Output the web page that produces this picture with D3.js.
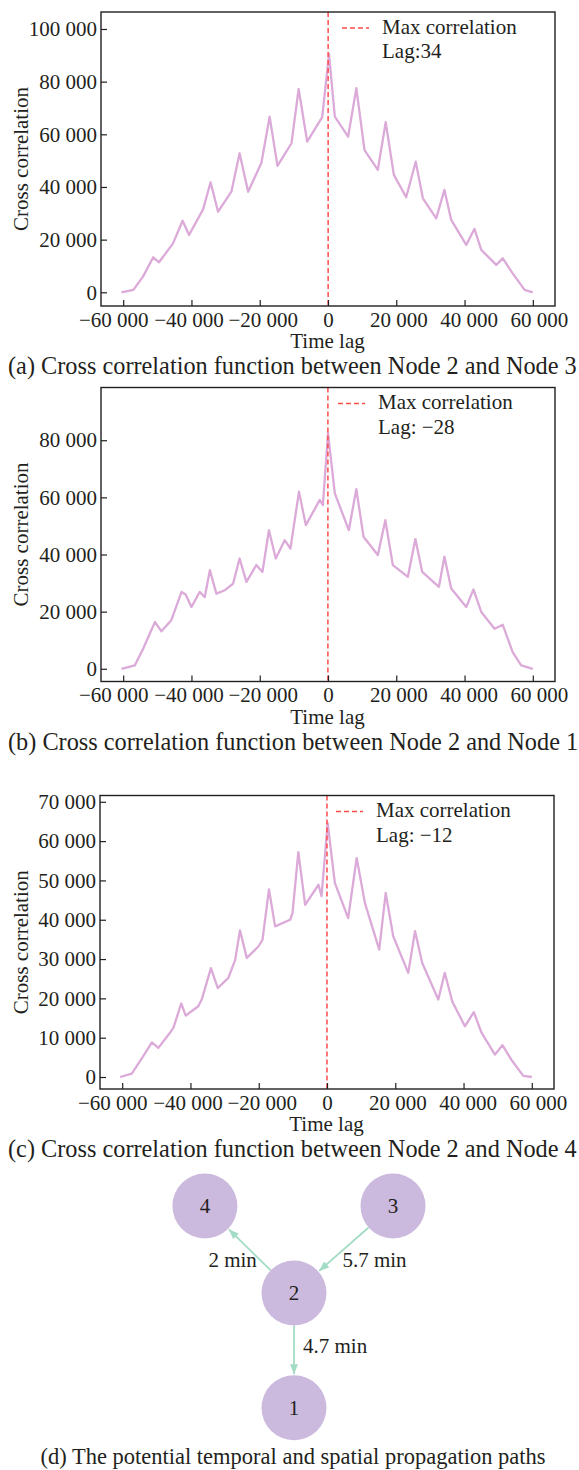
<!DOCTYPE html>
<html>
<head>
<meta charset="utf-8">
<script src="https://cdn.jsdelivr.net/npm/d3@7"></script>
<style>
  body { margin: 0; background: #fff; }
  text { font-family: "Liberation Serif", "Times New Roman", serif; fill: #231f20; }
</style>
</head>
<body>
<div id="chart"></div>
<script>
// ---- data ----
const xTicks = [-60000, -40000, -20000, 0, 20000, 40000, 60000];
const yTicksA = [0, 20000, 40000, 60000, 80000, 100000];
const yTicksB = [0, 20000, 40000, 60000, 80000];
const yTicksC = [0, 10000, 20000, 30000, 40000, 50000, 60000, 70000];

// (a) Node 2 vs Node 3
const lagA = [-60500, -57000, -54200, -51200, -49500, -45400, -42600, -40700, -36600, -34400, -32200, -28300, -25900, -23400, -19500, -17100, -14800, -10700, -8600, -6100, -1700, 300, 2000, 5900, 8300, 10700, 14600, 16900, 19300, 22900, 25700, 27800, 31700, 34100, 36100, 40500, 42900, 44900, 49300, 51200, 54100, 57600, 60000];
const corrA = [0, 900, 5950, 13300, 11400, 18600, 27200, 21800, 31500, 41800, 30600, 38200, 52800, 38200, 49200, 66700, 48000, 56600, 77200, 57200, 66500, 90500, 66700, 59100, 77500, 54000, 46500, 64600, 44600, 36100, 49600, 35700, 28100, 38900, 27500, 18000, 24100, 16100, 10400, 12900, 7200, 900, 0];

// (b) Node 2 vs Node 1
const lagB = [-60500, -56600, -54150, -50700, -48800, -45900, -42900, -41700, -40000, -37600, -36100, -34600, -32700, -30200, -27800, -25900, -23900, -21000, -19200, -17300, -15300, -12700, -11000, -8500, -6500, -2400, -1500, 0, 2000, 6100, 8300, 10400, 14600, 16800, 19000, 23400, 25600, 27600, 32500, 34100, 36100, 40500, 42600, 44900, 48800, 51200, 54100, 56600, 60000];
const corrB = [0, 1200, 7000, 16400, 13100, 17000, 26900, 26000, 21600, 26900, 25100, 34500, 26300, 27500, 29800, 38600, 30400, 36300, 33900, 48500, 38600, 45000, 42100, 62000, 50300, 59100, 57300, 82500, 61400, 48500, 62900, 46200, 39800, 52000, 36300, 32200, 45400, 33900, 28700, 39200, 28100, 21600, 27800, 19900, 14000, 15400, 5800, 1200, 0];

// (c) Node 2 vs Node 4
const lagC = [-60600, -57200, -54200, -51300, -49400, -46400, -45000, -42700, -41400, -37700, -36700, -34000, -32000, -28900, -26900, -25500, -23500, -20100, -18900, -17000, -15200, -10800, -10100, -8400, -6400, -2500, -1600, 200, 2300, 6200, 8700, 11100, 15300, 17200, 19400, 23800, 25800, 27900, 32600, 34500, 36700, 40400, 43000, 45300, 49200, 51400, 54000, 57500, 60000];
const corrC = [0, 850, 4800, 8800, 7400, 10800, 12500, 18700, 15600, 18000, 19700, 27700, 22600, 25200, 29800, 37300, 30300, 33200, 34900, 47700, 38300, 40000, 41700, 57200, 43800, 48900, 46000, 64600, 49400, 40400, 55700, 44300, 32400, 46800, 35800, 26500, 37100, 29000, 19700, 26500, 19200, 12900, 16500, 11200, 5700, 8100, 4400, 300, 0];

const maxLags = [34, -28, -12];
const lagLabels = ['Lag:34', 'Lag: \u221228', 'Lag: \u221212'];
const captions = [
  '(a) Cross correlation function between Node 2 and Node 3',
  '(b) Cross correlation function between Node 2 and Node 1',
  '(c) Cross correlation function between Node 2 and Node 4'
];

// (d) propagation graph
const nodeIds = ['4', '3', '2', '1'];
const nodeCol = [-0.9, 1, 0, 0];
const nodeRow = [0, 0, 1, 2.32];
const edges = [
  { from: '2', to: '4', label: '2 min' },
  { from: '3', to: '2', label: '5.7 min' },
  { from: '2', to: '1', label: '4.7 min' }
];
const captionD = '(d) The potential temporal and spatial propagation paths';

// ---- layout / style ----
const W = 579, H = 1470;
const FONT = 21;
const INK = '#231f20';
const LINE = '#dcaad8';
const RED = '#ff4b4b';
// the original typesetting spreads the x tick labels a little
const xLabelNudge = [-10, -3, 3, 0, 2, 4, 6];

const fmt = d3.formatLocale({
  decimal: '.', thousands: ' ', grouping: [3], currency: ['', ''], minus: '\u2212'
}).format(',');

const svg = d3.select('#chart').append('svg')
  .attr('width', W).attr('height', H)
  .style('background', '#fff');

const panels = [
  { lags: lagA, values: corrA, yTicks: yTicksA, left: 101, right: 555, top: 12, bottom: 306,
    yDomain: [-5200, 106450], legendX: 342 },
  { lags: lagB, values: corrB, yTicks: yTicksB, left: 101, right: 555, top: 387.5, bottom: 681.5,
    yDomain: [-4450, 98450], legendX: 338 },
  { lags: lagC, values: corrC, yTicks: yTicksC, left: 100, right: 554, top: 795.5, bottom: 1089,
    yDomain: [-3050, 71600], legendX: 336 }
];

function drawPanel(p, i) {
  const x = d3.scaleLinear().domain([-66500, 66500]).range([p.left, p.right]);
  const y = d3.scaleLinear().domain(p.yDomain).range([p.bottom, p.top]);
  const g = svg.append('g');

  // series
  g.append('path')
    .datum(d3.zip(p.lags, p.values))
    .attr('fill', 'none')
    .attr('stroke', LINE)
    .attr('stroke-width', 2.3)
    .attr('stroke-linejoin', 'round')
    .attr('d', d3.line().x(d => x(d[0])).y(d => y(d[1])));

  // max correlation marker
  g.append('line')
    .attr('x1', x(maxLags[i])).attr('x2', x(maxLags[i]))
    .attr('y1', p.top).attr('y2', p.bottom)
    .attr('stroke', RED).attr('stroke-width', 1.5)
    .attr('stroke-dasharray', '5,3');

  // axes, inward ticks
  const xa = g.append('g')
    .attr('transform', `translate(0,${p.bottom})`)
    .call(d3.axisBottom(x).tickValues(xTicks).tickFormat(fmt)
      .tickSizeInner(-6).tickSizeOuter(0).tickPadding(6));
  xa.selectAll('.tick text').attr('dx', (d, k) => xLabelNudge[k]);
  const ya = g.append('g')
    .attr('transform', `translate(${p.left},0)`)
    .call(d3.axisLeft(y).tickValues(p.yTicks).tickFormat(fmt)
      .tickSizeInner(-6).tickSizeOuter(0).tickPadding(4));
  [xa, ya].forEach(a => {
    a.select('.domain').remove();
    a.attr('font-size', FONT).attr('font-family', null).attr('color', INK);
    a.selectAll('.tick line').attr('stroke-width', 1.2);
  });

  // frame
  g.append('rect')
    .attr('x', p.left).attr('y', p.top)
    .attr('width', p.right - p.left).attr('height', p.bottom - p.top)
    .attr('fill', 'none').attr('stroke', INK).attr('stroke-width', 1.4);

  // axis titles
  g.append('text')
    .attr('x', (p.left + p.right) / 2 - 0.5).attr('y', p.bottom + 42)
    .attr('text-anchor', 'middle').attr('font-size', FONT)
    .text('Time lag');
  g.append('text')
    .attr('transform', `translate(28,${(p.top + p.bottom) / 2}) rotate(-90)`)
    .attr('text-anchor', 'middle').attr('font-size', FONT)
    .text('Cross correlation');

  // legend
  const ly = p.top + 16;
  g.append('line')
    .attr('x1', p.legendX).attr('x2', p.legendX + 27)
    .attr('y1', ly).attr('y2', ly)
    .attr('stroke', RED).attr('stroke-width', 1.5).attr('stroke-dasharray', '5,3');
  g.append('text')
    .attr('x', p.legendX + 40).attr('y', p.top + 21.5)
    .attr('font-size', FONT).text('Max correlation');
  g.append('text')
    .attr('x', p.legendX + 40).attr('y', p.top + 46)
    .attr('font-size', FONT).text(lagLabels[i]);

  // caption
  svg.append('text')
    .attr('x', 8).attr('y', p.bottom + 68)
    .attr('font-size', 24.3)
    .text(captions[i]);
}

panels.forEach(drawPanel);

// ---- (d) graph ----
const gx = d3.scaleLinear().domain([0, 1]).range([294, 393]);
const gy = d3.scaleLinear().domain([0, 1]).range([1206, 1293]);
const R = 32.5;
const nodes = nodeIds.map((id, k) => ({ id, x: gx(nodeCol[k]), y: gy(nodeRow[k]) }));
const byId = new Map(nodes.map(n => [n.id, n]));
const EDGE = '#a3dcc4';

svg.append('defs').append('marker')
  .attr('id', 'arrow')
  .attr('viewBox', '0 0 10 8')
  .attr('refX', 10).attr('refY', 4)
  .attr('markerWidth', 10).attr('markerHeight', 8)
  .attr('markerUnits', 'userSpaceOnUse')
  .attr('orient', 'auto')
  .append('path').attr('d', 'M0,0L10,4L0,8Z').attr('fill', EDGE);

const labelShift = { '2 min': [7, 17, 'end'], '5.7 min': [-1.5, 17.5, 'start'], '4.7 min': [9, 3, 'start'] };

const gd = svg.append('g');
edges.forEach(e => {
  const a = byId.get(e.from), b = byId.get(e.to);
  const dx = b.x - a.x, dy = b.y - a.y, len = Math.hypot(dx, dy);
  const ux = dx / len, uy = dy / len;
  const x1 = a.x + ux * R, y1 = a.y + uy * R;
  const x2 = b.x - ux * (R + 1), y2 = b.y - uy * (R + 1);
  gd.append('line')
    .attr('x1', x1).attr('y1', y1).attr('x2', x2).attr('y2', y2)
    .attr('stroke', EDGE).attr('stroke-width', 1.8)
    .attr('marker-end', 'url(#arrow)');
  const s = labelShift[e.label];
  gd.append('text')
    .attr('x', (x1 + x2) / 2 + s[0]).attr('y', (y1 + y2) / 2 + s[1])
    .attr('text-anchor', s[2]).attr('font-size', FONT)
    .text(e.label);
});

gd.selectAll('.node')
  .data(nodes)
  .enter().append('g')
  .attr('class', 'node')
  .attr('transform', d => `translate(${d.x},${d.y})`)
  .each(function (d) {
    const n = d3.select(this);
    n.append('circle').attr('r', R).attr('fill', '#ccb9de');
    n.append('text').attr('text-anchor', 'middle').attr('dy', '0.35em')
      .attr('font-size', FONT).text(d.id);
  });

svg.append('text')
  .attr('x', 293).attr('y', 1464)
  .attr('text-anchor', 'middle').attr('font-size', 22.5)
  .text(captionD);
</script>
</body>
</html>
